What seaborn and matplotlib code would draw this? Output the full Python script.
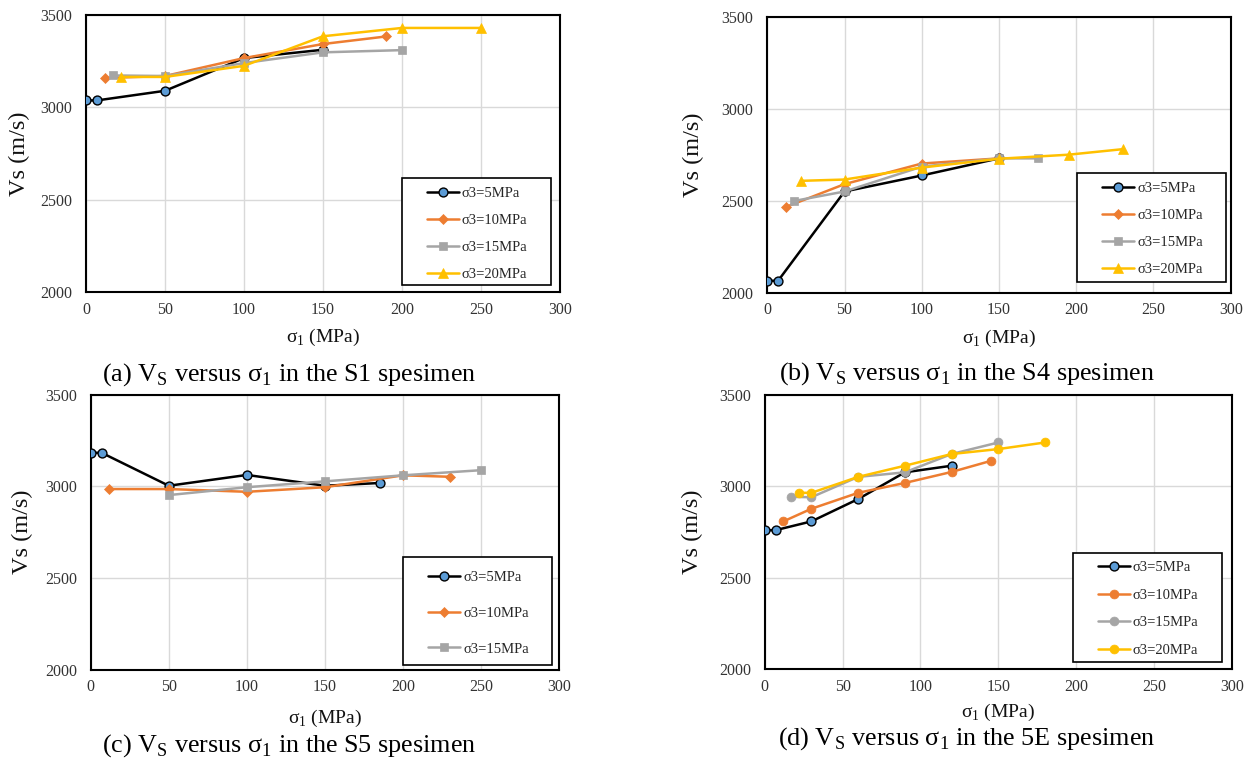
import matplotlib
matplotlib.use("Agg")
import matplotlib.pyplot as plt
import seaborn as sns
import pandas as pd
from matplotlib.patches import Rectangle

sns.set_theme(style="white")
plt.rcParams['font.family'] = ['Liberation Serif', 'DejaVu Serif']
plt.rcParams['mathtext.fontset'] = 'custom'
plt.rcParams['mathtext.rm'] = 'Liberation Serif'

# ---------------- data ----------------
series_labels = ["σ3=5MPa", "σ3=10MPa", "σ3=15MPa", "σ3=20MPa"]
x_ticks = [0, 50, 100, 150, 200, 250, 300]
y_ticks = [2000, 2500, 3000, 3500]

# (a) S1
a_x5 = [0, 7, 50, 100, 150]
a_y5 = [3038, 3038, 3090, 3267, 3312]
a_x10 = [12, 50, 100, 150, 190]
a_y10 = [3159, 3170, 3267, 3343, 3384]
a_x15 = [17, 50, 100, 150, 200]
a_y15 = [3173, 3170, 3240, 3298, 3310]
a_x20 = [22, 50, 100, 150, 200, 250]
a_y20 = [3165, 3165, 3225, 3385, 3430, 3430]

# (b) S4
b_x5 = [0, 7, 50, 100, 150]
b_y5 = [2065, 2065, 2550, 2637, 2730]
b_x10 = [12, 50, 100, 150]
b_y10 = [2466, 2590, 2702, 2730]
b_x15 = [17, 50, 100, 150, 175]
b_y15 = [2498, 2550, 2685, 2730, 2730]
b_x20 = [22, 50, 100, 150, 195, 230]
b_y20 = [2608, 2615, 2680, 2728, 2750, 2780]

# (c) S5
c_x5 = [0, 7, 50, 100, 150, 185]
c_y5 = [3183, 3183, 3003, 3062, 3003, 3018]
c_x10 = [12, 50, 100, 150, 200, 230]
c_y10 = [2985, 2985, 2970, 2995, 3060, 3052]
c_x15 = [50, 100, 150, 200, 250]
c_y15 = [2952, 2995, 3027, 3060, 3088]

# (d) 5E
d_x5 = [0, 7, 30, 60, 90, 120]
d_y5 = [2760, 2760, 2808, 2930, 3076, 3112]
d_x10 = [12, 30, 60, 90, 120, 145]
d_y10 = [2808, 2877, 2964, 3018, 3078, 3138]
d_x15 = [17, 30, 60, 90, 120, 150]
d_y15 = [2942, 2940, 3051, 3076, 3176, 3239]
d_x20 = [22, 30, 60, 90, 120, 150, 180]
d_y20 = [2964, 2964, 3051, 3112, 3176, 3203, 3239]

captions = ["(a) V$_\\mathregular{S}$ versus σ$_\\mathregular{1}$ in the S1 spesimen",
            "(b) V$_\\mathregular{S}$ versus σ$_\\mathregular{1}$ in the S4 spesimen",
            "(c) V$_\\mathregular{S}$ versus σ$_\\mathregular{1}$ in the S5 spesimen",
            "(d) V$_\\mathregular{S}$ versus σ$_\\mathregular{1}$ in the 5E spesimen"]

# ---------------- styles ----------------
BLACK, BLUE = "#000000", "#5B9BD5"
ORANGE, GRAY, YELLOW = "#ED7D31", "#A5A5A5", "#FFC000"
style_std = [
    dict(color=BLACK, marker="o", markerfacecolor=BLUE, markeredgecolor=BLACK, markersize=6.4, markeredgewidth=1.0),
    dict(color=ORANGE, marker="D", markerfacecolor=ORANGE, markeredgecolor=ORANGE, markersize=5.0, markeredgewidth=0.5),
    dict(color=GRAY, marker="s", markerfacecolor=GRAY, markeredgecolor=GRAY, markersize=5.4, markeredgewidth=0.5),
    dict(color=YELLOW, marker="^", markerfacecolor=YELLOW, markeredgecolor=YELLOW, markersize=7.0, markeredgewidth=0.5),
]
style_circ = [
    style_std[0],
    dict(color=ORANGE, marker="o", markerfacecolor=ORANGE, markeredgecolor=ORANGE, markersize=6.4, markeredgewidth=0.5),
    dict(color=GRAY, marker="o", markerfacecolor=GRAY, markeredgecolor=GRAY, markersize=6.4, markeredgewidth=0.5),
    dict(color=YELLOW, marker="o", markerfacecolor=YELLOW, markeredgecolor=YELLOW, markersize=6.4, markeredgewidth=0.5),
]

W, H = 1255, 763
fig = plt.figure(figsize=(W / 100, H / 100), dpi=100)

panels = [
    dict(rect=(86, 15, 560, 292.3), data=[(a_x5, a_y5), (a_x10, a_y10), (a_x15, a_y15), (a_x20, a_y20)],
         styles=style_std, ylab_x=30, xlab_top=327, cap=(289, 380.5),
         legbox=(401.7, 177.7, 550.7, 285), lspace=0.93, ltop=9.5),
    dict(rect=(767.3, 16.7, 1230.7, 292.7), data=[(b_x5, b_y5), (b_x10, b_y10), (b_x15, b_y15), (b_x20, b_y20)],
         styles=style_std, ylab_x=704, xlab_top=328, cap=(967, 380),
         legbox=(1077, 172.7, 1226, 281.7), lspace=0.96, ltop=8.7),
    dict(rect=(90.7, 394.7, 559.3, 669.5), data=[(c_x5, c_y5), (c_x10, c_y10), (c_x15, c_y15)],
         styles=style_std, ylab_x=33, xlab_top=708, cap=(289, 752),
         legbox=(403, 556.7, 551.7, 665), lspace=1.55, ltop=14),
    dict(rect=(764.7, 394.7, 1232, 669.3), data=[(d_x5, d_y5), (d_x10, d_y10), (d_x15, d_y15), (d_x20, d_y20)],
         styles=style_circ, ylab_x=703, xlab_top=702, cap=(967, 745),
         legbox=(1072.7, 553.3, 1222.3, 661.7), lspace=0.98, ltop=7.7),
]

for i, p in enumerate(panels):
    l, t, r, b = p["rect"]
    ax = fig.add_axes([l / W, (H - b) / H, (r - l) / W, (b - t) / H])
    for k, ((xs, ys), st) in enumerate(zip(p["data"], p["styles"])):
        df = pd.DataFrame({"x": xs, "y": ys})
        sns.lineplot(data=df, x="x", y="y", ax=ax, sort=False, estimator=None,
                     linewidth=1.8, label=series_labels[k], zorder=3 + k * 0.1, **st)
    ax.set_xlim(0, 300)
    ax.set_ylim(2000, 3500)
    ax.set_xticks(x_ticks)
    ax.set_yticks(y_ticks)
    ax.tick_params(axis="both", length=0, labelsize=11.5, colors="#333333")
    ax.tick_params(axis="y", pad=10)
    ax.tick_params(axis="x", pad=7)
    ax.grid(True, color="#D9D9D9", linewidth=1.0)
    ax.set_axisbelow(True)
    for s in ax.spines.values():
        s.set_color("black")
        s.set_linewidth(1.5)
    ax.set_xlabel("σ$_\\mathregular{1}$ (MPa)", fontsize=14, color="#111111")
    ax.set_ylabel("Vs (m/s)", fontsize=17.5, color="#111111")
    wpx, hpx = r - l, b - t
    ax.yaxis.set_label_coords((p["ylab_x"] - l) / wpx, 0.5)
    ax.xaxis.set_label_coords(((l + r) / 2 - l) / wpx, (b - p["xlab_top"]) / hpx)
    ax.xaxis.label.set_va("top")

    # legend frame and legend
    bl, bt, br, bb = p["legbox"]
    ax.add_patch(Rectangle(((bl - l) / wpx, (b - bb) / hpx), (br - bl) / wpx, (bb - bt) / hpx,
                           transform=ax.transAxes, facecolor="white", edgecolor="black",
                           linewidth=1.2, zorder=10, clip_on=False))
    handles, labels = ax.get_legend_handles_labels()
    leg = ax.legend(handles, labels, loc="upper left",
                    bbox_to_anchor=((bl + 25 - l) / wpx, (b - (bt + p["ltop"])) / hpx),
                    frameon=False, borderpad=0, borderaxespad=0, fontsize=10.5,
                    handlelength=2.2, handletextpad=0.2, labelspacing=p["lspace"])
    leg.set_zorder(11)
    fig.text(p["cap"][0] / W, (H - p["cap"][1]) / H, captions[i], fontsize=18.8,
             ha="center", va="baseline", color="black")

fig.savefig("out.png", dpi=100)
